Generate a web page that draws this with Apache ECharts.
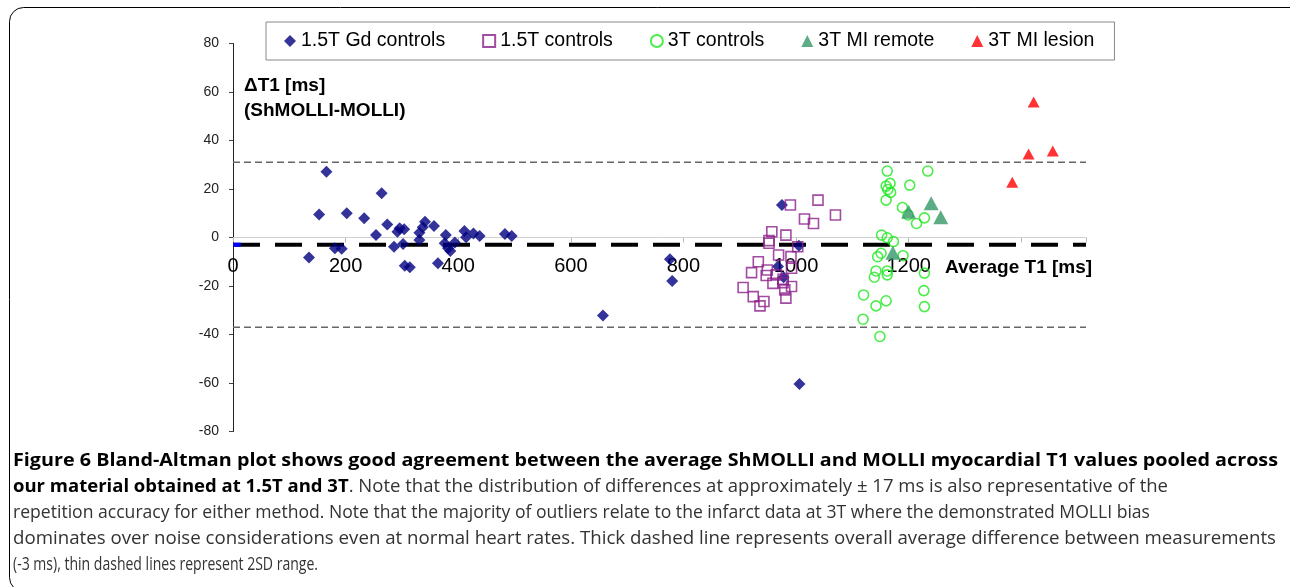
<!DOCTYPE html>
<html>
<head>
<meta charset="utf-8">
<script src="https://cdn.jsdelivr.net/npm/echarts@6/dist/echarts.min.js"></script>
<style>
html,body{margin:0;padding:0;background:#fff;}
#chart{width:1290px;height:587px;}
</style>
</head>
<body>
<div id="chart"></div>
<script>
// ---- data (average T1 [ms], ΔT1 [ms]) ----
var gdControls = [[166,27.1],[153,9.5],[135,-8.2],[181,-4.4],[193,-4.6],[202,10],[233,7.9],[254,1],[264,18.2],[274,5.4],[286,-3.8],[292,2.4],[296,3.8],[304,3.4],[302,-2.7],[305,-11.6],[314,-12.3],[331,-1],[331,2],[337,4.2],[341,6.5],[357,4.7],[364,-10.6],[378,1],[376,-2.4],[382,-4.4],[386,-5.6],[394,-2.1],[411,2.7],[414,0.1],[427,1.7],[438,0.6],[483,1.4],[495,0.6],[657,-32.2],[776,-9],[780,-17.9],[975,13.4],[1005,-3.4],[968,-12],[978,-16.4],[1006,-60.4]];
var controls15T = [[990,13.4],[1039,15.4],[1070,9.3],[1015,7.6],[1031,5.8],[957,2.4],[982,1],[952,-1.3],[952,-2.4],[1003,-3.8],[969,-7.2],[991,-7.9],[933,-10],[992,-12.7],[949,-13.4],[921,-14.5],[947,-15.7],[965,-15.4],[977,-17.2],[959,-18.9],[992,-20.2],[977,-18.6],[906,-20.6],[980,-21.6],[924,-24.4],[982,-25],[943,-26.4],[936,-28.2]];
var controls3T = [[1162,27.4],[1234,27.4],[1167,22.3],[1160,21.2],[1163,19.8],[1168,18.6],[1202,21.6],[1160,15.4],[1189,12.4],[1199,9.3],[1228,8.1],[1214,5.8],[1152,1],[1162,-0.1],[1173,-1.7],[1145,-7.9],[1151,-6.5],[1190,-7.5],[1142,-13.8],[1139,-16.4],[1162,-13.8],[1162,-15.4],[1228,-14.7],[1120,-23.7],[1227,-21.9],[1160,-26.1],[1142,-28.2],[1228,-28.5],[1119,-33.7],[1149,-40.8]];
var miRemote3T = [[1200,10.6],[1240,14.1],[1257,8.3],[1172,-6.3]];
var miLesion3T = [[1422,55.9],[1413,34.4],[1456,35.7],[1384,22.8]];
var seriesNames = ['1.5T Gd controls','1.5T controls','3T controls','3T MI remote','3T MI lesion'];
var meanDiff = -3;
var limitsOfAgreement = [31, -37];
var lineXRange = [0, 1515];
var blueStubX = [0, 14];
var xTickMax = 1200;      // last labelled x tick
var yMin = -80, yMax = 80, yStep = 20, xMin = 0, xMax = 1515, xStep = 200;
var xTitle = 'Average T1 [ms]';
var yTitle = ['\u0394T1 [ms]', '(ShMOLLI-MOLLI)'];
var captionLines = [
  [['b','Figure 6 Bland-Altman plot shows good agreement between the average ShMOLLI and MOLLI myocardial T1 values pooled across']],
  [['b','our material obtained at 1.5T and 3T'],['n','. Note that the distribution of differences at approximately \u00b1 17 ms is also representative of the']],
  [['n','repetition accuracy for either method. Note that the majority of outliers relate to the infarct data at 3T where the demonstrated MOLLI bias']],
  [['n','dominates over noise considerations even at normal heart rates. Thick dashed line represents overall average difference between measurements']],
  [['n','(-3 ms), thin dashed lines represent 2SD range.']]
];
var captionTargetRight = [1278, 1168, 1150, 1276, 318];

// ---- layout constants ----
var GRID_LEFT = 233, GRID_TOP = 43.5, GRID_W = 853, GRID_H = 388;
// pixel shift that puts the x axis on y = 0
var X_AXIS_OFFSET = -GRID_H * (0 - yMin) / (yMax - yMin);

// ---- caption fitting ----
var CAP_FONT = '"Open Sans", "DejaVu Sans", sans-serif';
var CAP_SIZE = 18;
var mctx = document.createElement('canvas').getContext('2d');
function segWidth(kind, txt){
  mctx.font = (kind==='b' ? 'bold ' : '') + CAP_SIZE + 'px ' + CAP_FONT;
  return mctx.measureText(txt).width;
}
var capLeft = 13, capTop0 = 461, capLH = 26;
var captionGraphics = captionLines.map(function(line, i){
  var w = 0, txt = '';
  line.forEach(function(s){ w += segWidth(s[0], s[1]); txt += '{' + s[0] + '|' + s[1].replace(/[{}|]/g,'') + '}'; });
  var sx = (captionTargetRight[i] - capLeft) / w;
  return {
    type:'text', x: capLeft, y: capTop0 + i*capLH, scaleX: sx, originX: 0, silent:true,
    style:{
      text: txt, x:0, y:0, verticalAlign:'middle', align:'left',
      rich:{
        b:{fontFamily:CAP_FONT, fontSize:CAP_SIZE, fontWeight:'bold', fill:'#000'},
        n:{fontFamily:CAP_FONT, fontSize:CAP_SIZE, fontWeight:'normal', fill:'#333'}
      }
    }
  };
});

var chart = echarts.init(document.getElementById('chart'), null, {renderer:'canvas'});
var AX_FONT = 'Arial, "Liberation Sans", sans-serif';

function scatter(name, data, symbol, size, style){
  return { name:name, type:'scatter', data:data, symbol:symbol, symbolSize:size, itemStyle:style, z:5, emphasis:{disabled:true} };
}

var option = {
  animation:false,
  backgroundColor:'#fff',
  grid:{ left:GRID_LEFT, top:GRID_TOP, width:GRID_W, height:GRID_H, containLabel:false },
  legend:{
    left:266, top:22, data:seriesNames,
    padding:[9,20,9,18], itemGap:37, itemWidth:12, itemHeight:12,
    borderColor:'#888', borderWidth:1,
    textStyle:{ fontFamily:AX_FONT, fontSize:19.5, color:'#000' }
  },
  xAxis:{
    type:'value', min:xMin, max:xMax, interval:xStep, position:'bottom', offset:X_AXIS_OFFSET,
    axisLine:{ onZero:false, lineStyle:{ color:'#d0d0d0', width:1 } },
    axisTick:{ show:true, length:5, lineStyle:{ color:'#b8b8b8' } },
    axisLabel:{ fontFamily:AX_FONT, fontSize:20, color:'#000', margin:19,
      formatter:function(v){ return v <= xTickMax ? String(v) : ''; } },
    splitLine:{ show:false }
  },
  yAxis:{
    type:'value', min:yMin, max:yMax, interval:yStep,
    axisLine:{ show:true, onZero:false, lineStyle:{ color:'#222', width:1 } },
    axisTick:{ show:true, length:4, lineStyle:{ color:'#444' } },
    axisLabel:{ fontFamily:AX_FONT, fontSize:14, color:'#222', margin:14 },
    splitLine:{ show:false }
  },
  graphic: [
    { type:'rect', shape:{ x:9.5, y:7.5, width:1310, height:584, r:14 }, style:{ fill:'none', stroke:'#000', lineWidth:1 }, silent:true, z:-1 },
    { type:'text', x:945, y:268, silent:true, style:{ text:xTitle, fontFamily:AX_FONT, fontSize:19, fontWeight:'bold', fill:'#000', verticalAlign:'middle' } },
    { type:'text', x:244, y:86, silent:true, style:{ text:yTitle[0], fontFamily:AX_FONT, fontSize:19, fontWeight:'bold', fill:'#000', verticalAlign:'middle' } },
    { type:'text', x:244, y:111, silent:true, style:{ text:yTitle[1], fontFamily:AX_FONT, fontSize:19, fontWeight:'bold', fill:'#000', verticalAlign:'middle' } }
  ].concat(captionGraphics),
  series:[
    { type:'line', name:'upperLoA', data:[[lineXRange[0],limitsOfAgreement[0]],[lineXRange[1],limitsOfAgreement[0]]], symbol:'none', silent:true, z:2,
      lineStyle:{ color:'#666', width:1.5, type:[7,4] } },
    { type:'line', name:'lowerLoA', data:[[lineXRange[0],limitsOfAgreement[1]],[lineXRange[1],limitsOfAgreement[1]]], symbol:'none', silent:true, z:2,
      lineStyle:{ color:'#666', width:1.5, type:[7,4] } },
    { type:'line', name:'mean', data:[[lineXRange[0],meanDiff],[lineXRange[1],meanDiff]], symbol:'none', silent:true, z:3,
      lineStyle:{ color:'#000', width:4, type:[27,15] } },
    { type:'line', name:'stub', data:[[blueStubX[0],meanDiff],[blueStubX[1],meanDiff]], symbol:'none', silent:true, z:3,
      lineStyle:{ color:'#0000ff', width:4 } },
    scatter(seriesNames[0], gdControls, 'diamond', 12, { color:'#000080' }),
    scatter(seriesNames[1], controls15T, 'rect', 10, { color:'rgba(255,255,255,0)', borderColor:'#8B1F8B', borderWidth:1.6 }),
    scatter(seriesNames[2], controls3T, 'circle', 10, { color:'rgba(255,255,255,0)', borderColor:'#1EE81E', borderWidth:1.6 }),
    scatter(seriesNames[3], miRemote3T, 'triangle', [15,14], { color:'#339966' }),
    scatter(seriesNames[4], miLesion3T, 'triangle', [12,11], { color:'#ff0000' })
  ]
};
chart.setOption(option);
</script>
</body>
</html>
